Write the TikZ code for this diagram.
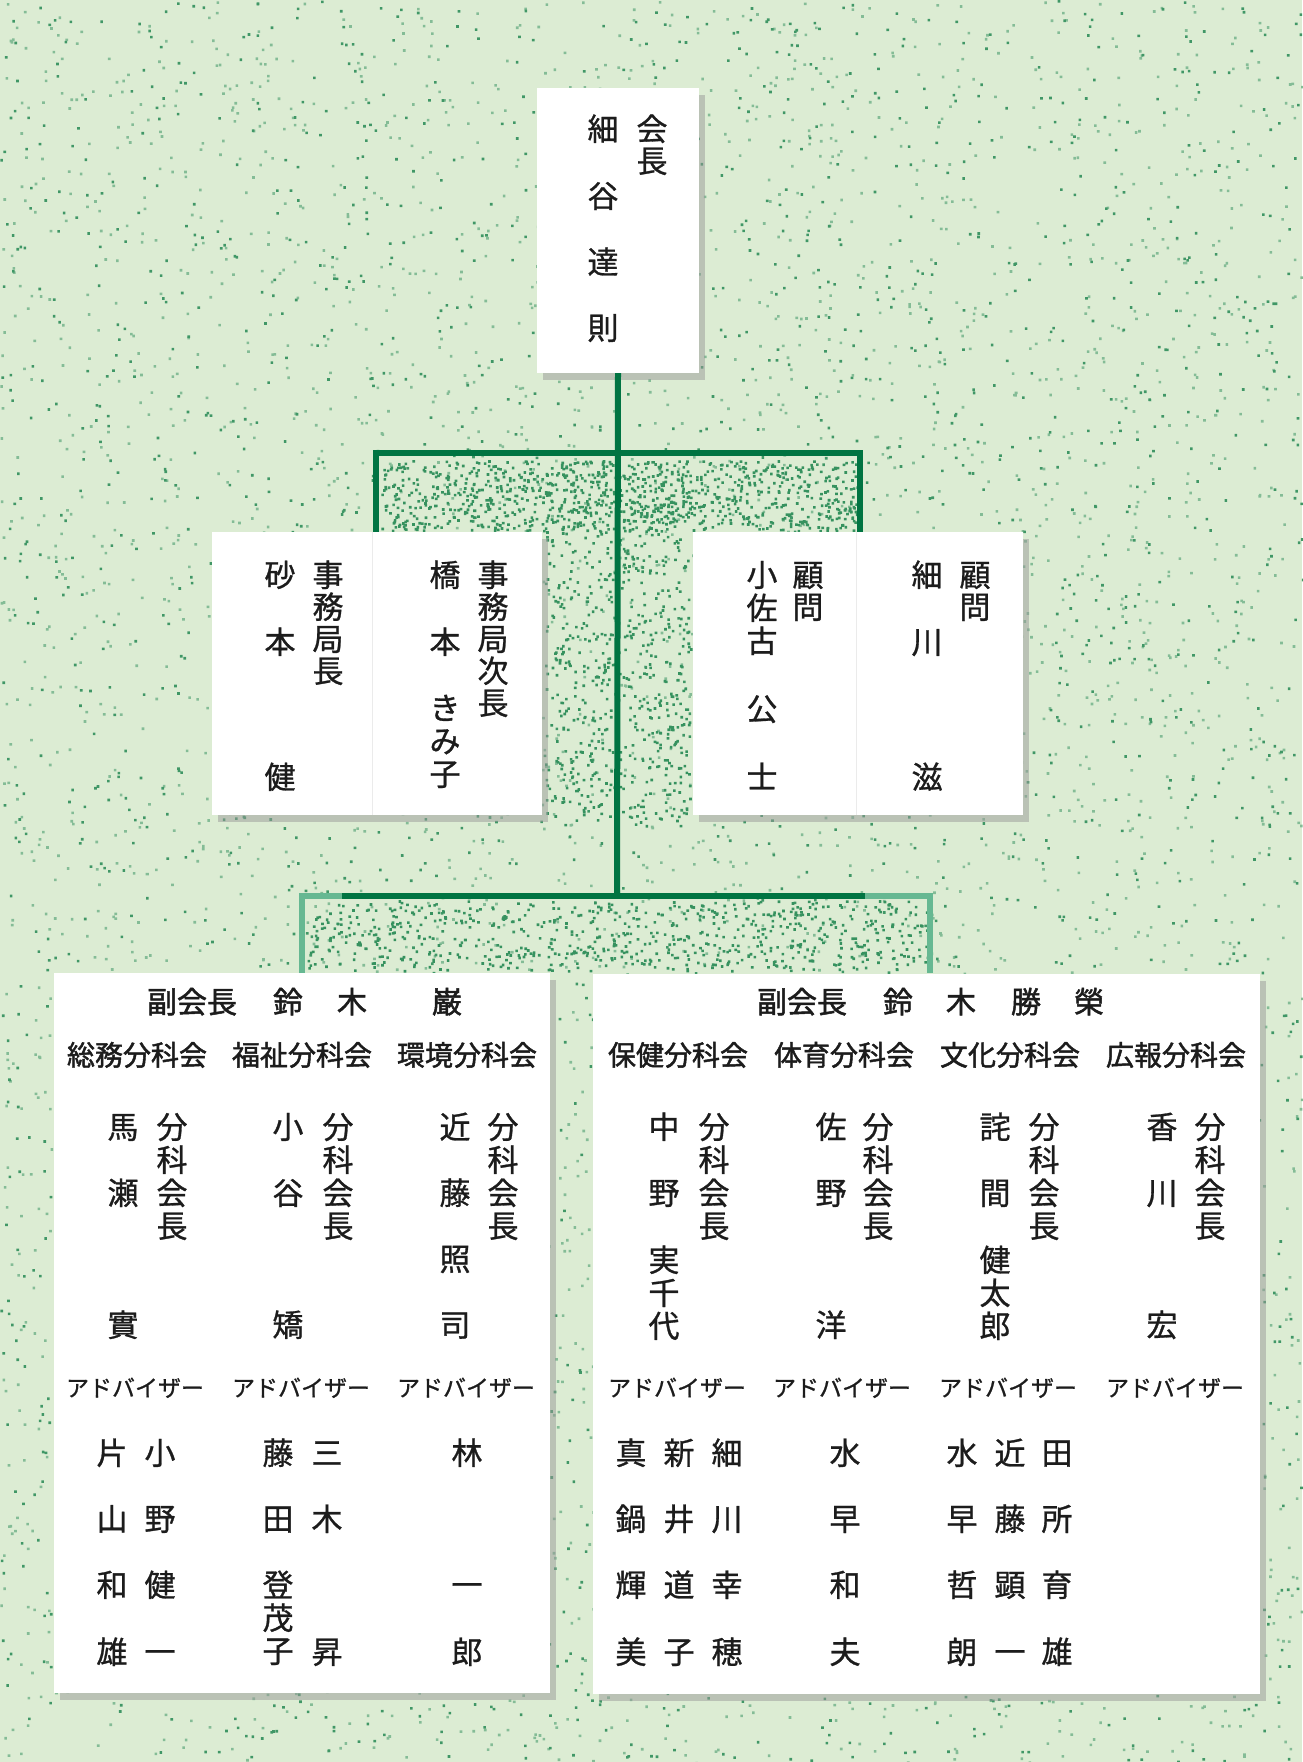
\documentclass[tikz,border=0pt]{standalone}
\usepackage{fontspec}
\setmainfont{Noto Sans CJK JP}
\newfontfamily\jp[FakeBold=0.9]{Noto Sans CJK JP}
\newfontfamily\jpb[FakeBold=1.6]{Noto Sans CJK JP}
\usetikzlibrary{shadows}
\definecolor{bg}{RGB}{220,236,211}
\definecolor{spk}{RGB}{25,130,75}
\definecolor{lg}{RGB}{0,116,66}
\definecolor{lgl}{RGB}{102,184,146}
\definecolor{ink}{RGB}{28,28,28}
\tikzset{
  ch/.style={inner sep=0pt, text=ink, font=\jp\fontsize{31}{31}\selectfont, text height=27pt, text depth=4pt},
  ttl/.style={inner sep=0pt, text=ink, font=\jpb\fontsize{30}{30}\selectfont, text height=26pt, text depth=4pt},
  subt/.style={inner sep=0pt, text=ink, font=\jpb\fontsize{28}{28}\selectfont, text height=24.5pt, text depth=3.5pt},
  adv/.style={inner sep=0pt, text=ink, font=\jp\fontsize{23}{23}\selectfont, text height=20pt, text depth=3pt},
  card/.style={fill=white, inner sep=0pt, draw=none, drop shadow={shadow xshift=6pt, shadow yshift=-7pt, fill=black!40, opacity=0.5}},
  conn/.style={draw=lg, line width=6pt},
  connl/.style={draw=lgl, line width=6pt},
}
\newcommand\vpos[4]{\foreach \yy/\cc [count=\i] in {#4}{\node[#1] (#2-\i) at (#3,\yy) {\cc};}}
\newcommand\speck[6]{\fill[#6] \foreach \k in {1,...,#1}{ ({#2+rnd*(#3-#2)},{#4+rnd*(#5-#4)}) rectangle ++(2.6,2.6) };}
\begin{document}
\begin{tikzpicture}[x=1pt,y=-1pt]
\useasboundingbox (0,0) rectangle (1302,1762);
\fill[bg] (0,0) rectangle (1302,1762);
\pgfmathsetseed{11}
\speck{4000}{0}{1302}{0}{1762}{spk!45!bg}
\speck{3000}{0}{1302}{0}{1762}{spk!80!bg}
\speck{900}{380}{860}{460}{530}{spk!85!bg}
\speck{700}{545}{690}{460}{825}{spk!85!bg}
\speck{700}{305}{928}{900}{970}{spk!85!bg}

% boxes
\node[card, minimum width=162, minimum height=285] (pres) at (618,230.5) {};
\node[card, minimum width=161, minimum height=283] (boxA) at (292.5,673.5) {};
\node[card, minimum width=169, minimum height=283] (boxB) at (457.5,673.5) {};
\node[card, minimum width=164, minimum height=283] (boxC) at (775,673.5) {};
\node[card, minimum width=166, minimum height=283] (boxD) at (940,673.5) {};
\node[card, minimum width=496, minimum height=720] (bigL) at (302,1333) {};
\node[card, minimum width=667, minimum height=720] (bigR) at (926.5,1333.5) {};
\draw[black!8, line width=1pt] (boxB.north west) -- (boxB.south west);
\draw[black!8, line width=1pt] (boxD.north west) -- (boxD.south west);

% connectors
\coordinate (jup) at (617,453);
\coordinate (jlow) at (617,896);
\coordinate (jl1) at (342,896);
\coordinate (jr1) at (865,896);
\draw[conn] (pres.south) -- (jlow);
\draw[conn] ([xshift=3pt]boxB.north west) |- (jup) -| ([xshift=3pt]boxD.north west);
\draw[connl] (bigL.north) |- (jlow) -| ([xshift=3.5pt]bigR.north);
\draw[conn] (jl1) -- (jr1);

% top
\vpos{ch}{p1}{652}{129/会,161/長}
\vpos{ch}{p2}{603}{129/細,196/谷,262/達,328/則}
% middle
\vpos{ch}{a1}{328}{575/事,607/務,639/局,671/長}
\vpos{ch}{a2}{280}{575/砂,642/本,777/健}
\vpos{ch}{b1}{493}{575/事,607/務,639/局,671/次,703/長}
\vpos{ch}{b2}{445}{575/橋,642/本,708/き,741/み,774/子}
\vpos{ch}{c1}{808}{575/顧,607/問}
\vpos{ch}{c2}{762}{575/小,608/佐,641/古,709/公,777/士}
\vpos{ch}{d1}{975}{575/顧,607/問}
\vpos{ch}{d2}{927}{575/細,642/川,777/滋}

% big titles
\node[ttl] (lt0) at (192,1002) {副会長};
\node[ttl] (lt1) at (288,1002) {鈴};
\node[ttl] (lt2) at (352,1002) {木};
\node[ttl] (lt3) at (447,1002) {巌};
\node[ttl] (rt0) at (802,1002) {副会長};
\node[ttl] (rt1) at (898,1002) {鈴};
\node[ttl] (rt2) at (961,1002) {木};
\node[ttl] (rt3) at (1026,1002) {勝};
\node[ttl] (rt4) at (1089,1002) {榮};

% sections
\node[subt] (ls1) at (137,1055) {総務分科会};
\node[subt] (ls2) at (302,1055) {福祉分科会};
\node[subt] (ls3) at (467,1055) {環境分科会};
\node[subt] (rs1) at (678,1055) {保健分科会};
\node[subt] (rs2) at (844,1055) {体育分科会};
\node[subt] (rs3) at (1010,1055) {文化分科会};
\node[subt] (rs4) at (1176,1055) {広報分科会};

% chair titles
\foreach \xx [count=\j] in {172,338,503,714,878,1044,1210}{\vpos{ch}{ct\j}{\xx}{1127/分,1160/科,1193/会,1226/長}}
% chair names
\vpos{ch}{ln1}{123}{1127/馬,1193/瀬,1325/實}
\vpos{ch}{ln2}{288}{1127/小,1193/谷,1325/矯}
\vpos{ch}{ln3}{455}{1127/近,1193/藤,1259/照,1325/司}
\vpos{ch}{rn1}{664}{1127/中,1193/野,1260/実,1293/千,1326/代}
\vpos{ch}{rn2}{831}{1127/佐,1193/野,1325/洋}
\vpos{ch}{rn3}{995}{1127/詫,1193/間,1260/健,1293/太,1326/郎}
\vpos{ch}{rn4}{1162}{1127/香,1193/川,1325/宏}

% advisers heading
\foreach \xx [count=\j] in {135,301,466,677,842,1008,1175}{\node[adv] (ah\j) at (\xx,1388) {アドバイザー};}

% advisers
\vpos{ch}{la1}{112}{1453/片,1519/山,1585/和,1652/雄}
\vpos{ch}{la2}{160}{1453/小,1519/野,1585/健,1652/一}
\vpos{ch}{la3}{278}{1453/藤,1519/田,1585/登,1618/茂,1651/子}
\vpos{ch}{la4}{327}{1453/三,1519/木,1652/昇}
\vpos{ch}{la5}{467}{1453/林,1585/一,1652/郎}
\vpos{ch}{ra1}{631}{1453/真,1519/鍋,1585/輝,1652/美}
\vpos{ch}{ra2}{679}{1453/新,1519/井,1585/道,1652/子}
\vpos{ch}{ra3}{727}{1453/細,1519/川,1585/幸,1652/穂}
\vpos{ch}{ra4}{845}{1453/水,1519/早,1585/和,1652/夫}
\vpos{ch}{ra5}{962}{1453/水,1519/早,1585/哲,1652/朗}
\vpos{ch}{ra6}{1010}{1453/近,1519/藤,1585/顕,1652/一}
\vpos{ch}{ra7}{1057}{1453/田,1519/所,1585/育,1652/雄}
\end{tikzpicture}
\end{document}
